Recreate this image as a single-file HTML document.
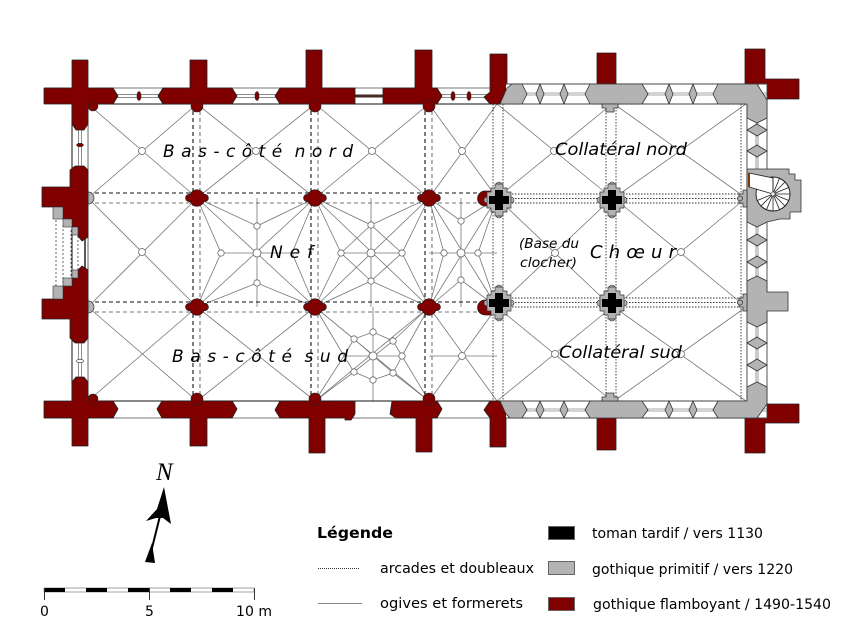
<!DOCTYPE html>
<html><head><meta charset="utf-8"><style>html,body{margin:0;padding:0;background:#fff}svg{display:block}</style></head>
<body>
<svg width="850" height="638" viewBox="0 0 850 638" xmlns="http://www.w3.org/2000/svg">
<defs>
<path id="qf" d="M-7,-3.5 A7.5 7.5 0 0 1 7,-3.5 A3.6 3.6 0 1 1 7,3.5 A7.5 7.5 0 0 1 -7,3.5 A3.6 3.6 0 1 1 -7,-3.5Z" fill="#800000" stroke="#222" stroke-width="0.7"/>
<g id="cp">
<circle cx="-12" cy="0" r="3" fill="#b3b3b3" stroke="#333" stroke-width="0.6"/>
<circle cx="12" cy="0" r="3" fill="#b3b3b3" stroke="#333" stroke-width="0.6"/>
<circle cx="0" cy="-15" r="3" fill="#b3b3b3" stroke="#333" stroke-width="0.6"/>
<circle cx="0" cy="15" r="3" fill="#b3b3b3" stroke="#333" stroke-width="0.6"/>
<polygon points="-4,-16 4,-16 4,-12 8,-12 8,-8 12,-8 12,8 8,8 8,12 4,12 4,16 -4,16 -4,12 -8,12 -8,8 -12,8 -12,-8 -8,-8 -8,-12 -4,-12" fill="#b3b3b3" stroke="#333" stroke-width="0.7"/>
<polygon points="-4,-10 4,-10 4,-4 10,-4 10,4 4,4 4,10 -4,10 -4,4 -10,4 -10,-4 -4,-4" fill="#000"/>
</g>
</defs>
<rect width="850" height="638" fill="#fff"/>

<rect x="88" y="104" width="659" height="297" fill="#fff" stroke="#888" stroke-width="1" stroke-dasharray="1 1"/>

<g stroke="#777" stroke-width="0.8" fill="none">
<path d="M88 104L197 198M197 104L88 198 M197 104L315 198M315 104L197 198 M315 104L429 198M429 104L315 198 M429 104L497 198M497 104L429 198 M497 104L612 198M612 104L497 198 M614 104L746 198M746 104L614 198"/>
<path d="M88 198L197 307M197 198L88 307 M197 198L315 307M315 198L197 307 M315 198L429 307M429 198L315 307 M429 198L497 307M497 198L429 307 M497 198L612 307M612 198L497 307 M614 198L746 307M746 198L614 307"/>
<path d="M88 307L197 401M197 307L88 401 M197 307L315 401M315 307L197 401 M315 307L429 401M429 307L315 401 M429 307L497 401M497 307L429 401 M497 307L612 401M612 307L497 401 M614 307L746 401M746 307L614 401"/>
<path d="M197 198L257 226L315 198 M197 307L257 283L315 307 M197 198L221 253L197 307 M315 198L292 253L315 307 M221 253H292 M257 226V283 M257 198V226 M257 283V307"/>
<path d="M315 198L371 225L429 198 M315 307L371 281L429 307 M315 198L341 253L315 307 M429 198L402 253L429 307 M341 253H402 M371 225V281 M371 198V225 M371 281V307 M341 253L371 225L402 253L371 281Z"/>
<path d="M429 198L461 221L497 198 M429 307L461 280L497 307 M429 198L444 253L429 307 M497 198L478 253L497 307 M429 253H497 M461 198V307"/>
<path d="M315 307L354 339M315 307L344 356 M429 307L393 341M429 307L402 356 M315 401L354 372M315 401L344 356 M429 401L393 373M429 401L402 356 M354 339L373 332L393 341L402 356L393 373L373 380L354 372L344 356Z M373 307V332 M373 380V401 M344 356H402 M373 332V380 M354 339L393 373 M393 341L354 372"/>
<path d="M429 356H497"/>
</g>
<g fill="#fff" stroke="#666" stroke-width="0.8">
<circle cx="142" cy="151" r="3.5"/><circle cx="256" cy="151" r="3.5"/><circle cx="372" cy="151" r="3.5"/><circle cx="462" cy="151" r="3.5"/><circle cx="554" cy="151" r="3.5"/><circle cx="681" cy="151" r="3.5"/>
<circle cx="142" cy="252" r="3.5"/><circle cx="257" cy="253" r="4"/><circle cx="221" cy="253" r="3.2"/><circle cx="257" cy="226" r="3.2"/><circle cx="257" cy="283" r="3.2"/>
<circle cx="371" cy="253" r="4"/><circle cx="341" cy="253" r="3.2"/><circle cx="402" cy="253" r="3.2"/><circle cx="371" cy="225" r="3.2"/><circle cx="371" cy="281" r="3.2"/>
<circle cx="461" cy="253" r="4"/><circle cx="444" cy="253" r="3.2"/><circle cx="478" cy="253" r="3.2"/><circle cx="461" cy="221" r="3.2"/><circle cx="461" cy="280" r="3.2"/>
<circle cx="373" cy="356" r="4"/><circle cx="354" cy="339" r="3.2"/><circle cx="373" cy="332" r="3.2"/><circle cx="393" cy="341" r="3.2"/><circle cx="402" cy="356" r="3.2"/><circle cx="393" cy="373" r="3.2"/><circle cx="373" cy="380" r="3.2"/><circle cx="354" cy="372" r="3.2"/>
<circle cx="462" cy="356" r="3.5"/><circle cx="555" cy="253" r="3.5"/><circle cx="681" cy="252" r="3.5"/><circle cx="555" cy="354" r="3.5"/><circle cx="681" cy="354" r="3.5"/>
</g>

<g fill="none" stroke-width="1.1" stroke-dasharray="4 3">
<path stroke="#111" d="M88 193H490 M88 302H490 M193 104V401 M311 104V401 M425 104V401"/>
<path stroke="#777" d="M88 203H490 M88 312H490 M200 104V401 M318 104V401 M432 104V401"/>
</g>
<g fill="none" stroke="#333" stroke-width="0.9" stroke-dasharray="1.5 1.5">
<path d="M493 104V401 M503 104V401 M606 104V401 M616 104V401 M503 194H742 M503 198.5H742 M503 203H742 M503 298H742 M503 302.5H742 M503 307H742 M741 104V401"/>
</g>

<circle cx="88" cy="198" r="6" fill="#b3b3b3" stroke="#333" stroke-width="0.7"/>
<circle cx="88" cy="307" r="6" fill="#b3b3b3" stroke="#333" stroke-width="0.7"/>

<rect x="88" y="88" width="420" height="16" fill="#fff"/>
<line x1="44" y1="88" x2="508" y2="88" stroke="#777" stroke-width="1"/>
<line x1="88" y1="104" x2="508" y2="104" stroke="#111" stroke-width="1"/>
<g fill="#fff" stroke="#444" stroke-width="0.6">
<rect x="113" y="94.5" width="50" height="3"/><rect x="232" y="94.5" width="50" height="3"/><rect x="437" y="94.5" width="55" height="3"/>
<rect x="113" y="408.5" width="50" height="3"/><rect x="232" y="408.5" width="50" height="3"/><rect x="437" y="408.5" width="55" height="3"/>
</g>
<rect x="355" y="94.5" width="30" height="3" fill="#4a2a20"/>
<rect x="355" y="408.5" width="36" height="3" fill="#4a2a20"/>
<g fill="#800000" stroke="#222" stroke-width="0.6">
<ellipse cx="139" cy="96" rx="2" ry="4.5"/><ellipse cx="257" cy="96" rx="2" ry="4.5"/><ellipse cx="453" cy="96" rx="2" ry="4.5"/><ellipse cx="469" cy="96" rx="2" ry="4.5"/>
<ellipse cx="139" cy="410" rx="2" ry="4.5"/><ellipse cx="257" cy="410" rx="2" ry="4.5"/><ellipse cx="453" cy="410" rx="2" ry="4.5"/><ellipse cx="469" cy="410" rx="2" ry="4.5"/>
</g>

<rect x="88" y="401" width="420" height="17" fill="#fff"/>
<line x1="88" y1="401" x2="508" y2="401" stroke="#111" stroke-width="1"/>
<line x1="44" y1="418" x2="508" y2="418" stroke="#777" stroke-width="1"/>

<rect x="72" y="104" width="16" height="297" fill="#fff"/>
<line x1="72" y1="104" x2="72" y2="401" stroke="#111" stroke-width="1"/>
<line x1="88" y1="104" x2="88" y2="401" stroke="#444" stroke-width="0.8"/>
<g stroke="#444" stroke-width="0.6" fill="#fff"><rect x="78.5" y="125" width="3" height="42"/><rect x="78.5" y="340" width="3" height="46"/></g>
<ellipse cx="80" cy="145" rx="3.5" ry="1.8" fill="#800000" stroke="#222" stroke-width="0.5"/>
<ellipse cx="80" cy="361" rx="3.5" ry="1.8" fill="#fff" stroke="#222" stroke-width="0.6"/>
<g stroke="#555" stroke-width="0.9" stroke-dasharray="2 2" fill="none">
<path d="M56 220V287 M63 225V283 M71 230V278 M78 236V270"/>
</g>
<line x1="85" y1="234" x2="85" y2="272" stroke="#222" stroke-width="1.5"/>

<g fill="#800000" stroke="#222" stroke-width="0.8" stroke-linejoin="round">
<polygon points="44,88 72,88 72,60 88,60 88,88 113,88 118,96 113,104 88,104 88,124 84,130 76,130 72,124 72,104 44,104"/>
<polygon points="163,88 190,88 190,60 207,60 207,88 232,88 237,96 232,104 163,104 158,96"/>
<polygon points="280,88 306,88 306,50 322,50 322,88 355,88 355,104 280,104 275,96"/>
<polygon points="383,88 415,88 415,50 432,50 432,88 437,88 442,96 437,104 383,104"/>
<polygon points="490,54 507,54 507,88 500,104 490,104 484,97 490,92"/>
<polygon points="44,401 72,401 72,382 76,377 84,377 88,382 88,401 113,401 118,409 113,418 88,418 88,446 72,446 72,418 44,418"/>
<polygon points="162,401 232,401 237,409 232,418 207,418 207,446 190,446 190,418 162,418 157,409"/>
<polygon points="280,401 355,401 355,414 351,420 345,420 345,418 325,418 325,453 309,453 309,418 280,418 275,410"/>
<polygon points="392,401 437,401 442,409 437,418 432,418 432,452 416,452 416,418 396,418 390,414"/>
<polygon points="490,401 500,401 506,414 506,447 490,447 490,418 484,410"/>
<polygon points="42,187 70,187 70,170 75,166 84,166 88,170 88,237 82,241 78,236 78,227 72,227 72,219 63,219 63,207 42,207"/>
<polygon points="42,319 70,319 70,338 75,343 84,343 88,338 88,270 82,266 78,270 78,278 72,278 72,286 63,286 63,299 42,299"/>
<rect x="597" y="53" width="19" height="31"/>
<rect x="597" y="418" width="19" height="32"/>
<polygon points="745,49 765,49 765,79 799,79 799,99 767,99 757,84 745,84"/>
<polygon points="745,453 765,453 765,423 799,423 799,404 767,404 757,418 745,418"/>
</g>
<g fill="#800000" stroke="#222" stroke-width="0.6">
<circle cx="93" cy="106" r="5"/><circle cx="197" cy="106" r="6"/><circle cx="315" cy="106" r="6"/><circle cx="429" cy="106" r="6"/>
<circle cx="93" cy="399" r="5"/><circle cx="197" cy="399" r="6"/><circle cx="315" cy="399" r="6"/><circle cx="429" cy="399" r="6"/>
</g>
<g fill="#b3b3b3" stroke="#333" stroke-width="0.6">
<rect x="53" y="207" width="10" height="12"/><rect x="63" y="219" width="9" height="8"/><rect x="72" y="227" width="6" height="8"/>
<rect x="72" y="270" width="6" height="8"/><rect x="63" y="278" width="9" height="8"/><rect x="53" y="286" width="10" height="13"/>
</g>

<rect x="506" y="84" width="261" height="20" fill="#fff"/>
<rect x="506" y="401" width="261" height="17" fill="#fff"/>
<rect x="747" y="84" width="20" height="334" fill="#fff"/>
<g stroke="#444" stroke-width="0.9" fill="none">
<path d="M506 84H767 M506 104H747 M506 401H747 M506 418H767 M747 104V401 M767 84V418"/>
</g>
<g stroke="#555" stroke-width="0.6" fill="none">
<path d="M506 93H767 M506 95H767 M506 409H767 M506 411H767 M756 84V418 M758 84V418"/>
</g>
<g fill="#b3b3b3" stroke="#333" stroke-width="0.8" stroke-linejoin="round">
<polygon points="500,104 507,88 512,84 522,84 527,94 522,104"/>
<polygon points="590,84 642,84 648,94 642,104 590,104 585,94"/>
<polygon points="718,84 757,84 767,100 767,118 757,123 747,118 747,104 718,104 713,94"/>
<polygon points="500,401 506,414 510,418 522,418 527,410 522,401"/>
<polygon points="590,401 642,401 648,410 642,418 590,418 585,410"/>
<polygon points="718,401 747,401 747,387 757,382 767,387 767,404 757,418 718,418 713,410"/>
<polygon points="536,94 540,84 544,94 540,104"/><polygon points="560,94 564,84 568,94 564,104"/>
<polygon points="665,94 669,84 673,94 669,104"/><polygon points="689,94 693,84 697,94 693,104"/>
<polygon points="536,410 540,401 544,410 540,418"/><polygon points="560,410 564,401 568,410 564,418"/>
<polygon points="665,410 669,401 673,410 669,418"/><polygon points="689,410 693,401 697,410 693,418"/>
<polygon points="747,130 757,124 767,130 757,136"/><polygon points="747,151 757,145 767,151 757,157"/>
<polygon points="747,240 757,234 767,240 757,246"/><polygon points="747,262 757,256 767,262 757,268"/>
<polygon points="747,343 757,337 767,343 757,349"/><polygon points="747,365 757,359 767,365 757,371"/>
<polygon points="747,169 789,169 789,174 795,174 795,180 801,180 801,212 790,212 790,219 780,219 767,222 757,227 747,222"/>
<polygon points="747,281 757,276 767,281 767,292 788,292 788,311 767,311 767,322 757,327 747,322"/>
<polygon points="602,104 602,108 606,108 606,112 614,112 614,108 618,108 618,104"/>
<polygon points="602,401 602,397 606,397 606,393 614,393 614,397 618,397 618,401"/>
<polygon points="747,190 743,190 743,194 739,194 739,203 743,203 743,207 747,207"/>
<polygon points="747,294 743,294 743,298 739,298 739,307 743,307 743,311 747,311"/>
<circle cx="740" cy="198.5" r="2.5"/><circle cx="740" cy="302.5" r="2.5"/>
</g>
<circle cx="773" cy="194" r="17" fill="#fff" stroke="#222" stroke-width="1"/>
<polygon points="749,173 773,178 773,194 749,187" fill="#fff" stroke="#222" stroke-width="0.8"/>
<rect x="748" y="173" width="2" height="14" fill="#7a3a10"/>
<g stroke="#222" stroke-width="0.8">
<path d="M773 194H790 M773 194L788.7 200.5 M773 194L785 206 M773 194L779.5 209.7 M773 194V211 M773 194L766.5 209.7 M773 194L761 206 M773 194L757.3 200.5 M773 194L785 182 M773 194L779.5 178.3 M773 194V177 M773 194L788.7 187.5"/>
</g>
<circle cx="773" cy="194" r="2" fill="#fff" stroke="#222" stroke-width="0.6"/>

<use href="#qf" x="197" y="198"/><use href="#qf" x="315" y="198"/><use href="#qf" x="429" y="198"/>
<use href="#qf" x="197" y="307"/><use href="#qf" x="315" y="307"/><use href="#qf" x="429" y="307"/>
<path d="M494,191 H485 A7.5 7.5 0 0 0 485,206 H494Z" fill="#800000" stroke="#222" stroke-width="0.7"/>
<path d="M494,300 H485 A7.5 7.5 0 0 0 485,315 H494Z" fill="#800000" stroke="#222" stroke-width="0.7"/>
<use href="#cp" x="499" y="200"/><use href="#cp" x="499" y="303"/>
<use href="#cp" x="612" y="200"/><use href="#cp" x="612" y="303"/>

<g font-family="'DejaVu Sans','Liberation Sans',sans-serif" font-style="italic" fill="#000" style="white-space:pre">
<text xml:space="preserve" x="163" y="157" font-size="17" textLength="190" lengthAdjust="spacing">B a s - c ô t é  n o r d</text>
<text x="270" y="258" font-size="17" textLength="43" lengthAdjust="spacing">N e f</text>
<text xml:space="preserve" x="172" y="362" font-size="17" textLength="176" lengthAdjust="spacing">B a s - c ô t é  s u d</text>
<text x="555" y="155" font-size="17" textLength="132" lengthAdjust="spacingAndGlyphs">Collatéral nord</text>
<text x="519" y="248" font-size="13" textLength="60" lengthAdjust="spacingAndGlyphs">(Base du</text>
<text x="520" y="267" font-size="13" textLength="57" lengthAdjust="spacingAndGlyphs">clocher)</text>
<text x="590" y="258" font-size="18" textLength="86" lengthAdjust="spacing">C h œ u r</text>
<text x="559" y="358" font-size="17" textLength="123" lengthAdjust="spacingAndGlyphs">Collatéral sud</text>
</g>

<text x="156" y="480" font-family="'Liberation Serif',serif" font-style="italic" font-size="25" fill="#000">N</text>
<polygon points="164,487 171,524 163,518 156,518 146,521 157,509" fill="#000"/>
<line x1="160" y1="516" x2="150" y2="556" stroke="#000" stroke-width="2"/>
<polygon points="152,543 155,563 145,562" fill="#000"/>

<rect x="44" y="588" width="210" height="4" fill="#fff" stroke="#666" stroke-width="0.6"/>
<g fill="#000">
<rect x="44" y="588" width="21" height="4"/><rect x="86" y="588" width="21" height="4"/><rect x="128" y="588" width="21" height="4"/><rect x="170" y="588" width="21" height="4"/><rect x="212" y="588" width="21" height="4"/>
</g>
<path d="M44.5 588V600 M149.5 588V600 M254.5 588V600" stroke="#333" stroke-width="1"/>
<g font-family="'DejaVu Sans','Liberation Sans',sans-serif" font-size="14" fill="#000">
<text x="40" y="616">0</text>
<text x="145" y="616">5</text>
<text x="236" y="616" textLength="36" lengthAdjust="spacing">10 m</text>
</g>

<g font-family="'DejaVu Sans','Liberation Sans',sans-serif" fill="#000">
<text x="317" y="538" font-size="15" font-weight="bold" textLength="76" lengthAdjust="spacingAndGlyphs">Légende</text>
<text x="380" y="573" font-size="14" textLength="154" lengthAdjust="spacingAndGlyphs">arcades et doubleaux</text>
<text x="380" y="608" font-size="14" textLength="143" lengthAdjust="spacingAndGlyphs">ogives et formerets</text>
<text x="592" y="538" font-size="14" textLength="171" lengthAdjust="spacingAndGlyphs">toman tardif / vers 1130</text>
<text x="592" y="574" font-size="14" textLength="201" lengthAdjust="spacingAndGlyphs">gothique primitif / vers 1220</text>
<text x="593" y="609" font-size="14" textLength="238" lengthAdjust="spacingAndGlyphs">gothique flamboyant / 1490-1540</text>
</g>
<line x1="318" y1="568.5" x2="360" y2="568.5" stroke="#333" stroke-width="1" stroke-dasharray="1 1"/>
<line x1="318" y1="603.5" x2="362" y2="603.5" stroke="#888" stroke-width="1"/>
<rect x="548.5" y="526.5" width="26" height="13" fill="#000" stroke="#666" stroke-width="1"/>
<rect x="548.5" y="561.5" width="26" height="13" fill="#b3b3b3" stroke="#666" stroke-width="1"/>
<rect x="548.5" y="597.5" width="26" height="13" fill="#800000" stroke="#666" stroke-width="1"/>
</svg>
</body></html>
